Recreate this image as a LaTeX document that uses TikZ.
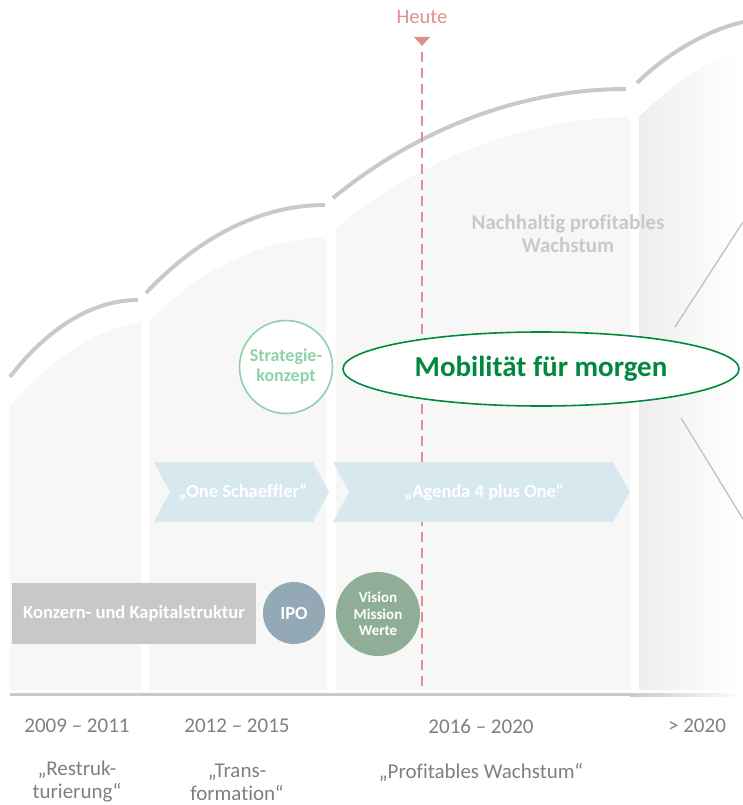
\documentclass[tikz,border=0pt]{standalone}
\usepackage{fontspec}
\setmainfont{Carlito}[Ligatures={TeX,NoCommon}]
\usetikzlibrary{shapes.geometric}
\definecolor{colfill}{HTML}{F7F7F7}
\definecolor{colfillb}{HTML}{EEEEEE}
\definecolor{arcgray}{HTML}{C9C9C9}
\definecolor{heutecol}{HTML}{E08E8E}
\definecolor{sgreen}{HTML}{00893D}
\definecolor{lgreen}{HTML}{8ED1AB}
\definecolor{chevcol}{HTML}{D7E8EF}
\definecolor{boxgray}{HTML}{C8C8C8}
\definecolor{ipocol}{HTML}{93A9B5}
\definecolor{viscol}{HTML}{8FAE97}
\definecolor{txtgray}{HTML}{7F7F7F}
\definecolor{thingray}{HTML}{C0C0C0}
\begin{document}
\begin{tikzpicture}[x=1pt,y=-1pt,
  topline/.style={draw=arcgray,line width=4pt},
  whitebold/.style={font=\fontsize{18.5}{21}\selectfont\bfseries,text=white,align=center,inner sep=0pt},
  yearlbl/.style={font=\fontsize{21}{23}\selectfont,text=txtgray,align=center,inner sep=0pt},
  chevshape/.style={fill=chevcol},
  thinline/.style={draw=thingray,line width=1.3pt}]
\useasboundingbox (0,0) rectangle (743,805);
% column backgrounds
\fill[colfill] (10,690) -- (10,407) .. controls (45,365) and (90,330) .. (141,322) -- (141,690) -- cycle;
\fill[colfill] (149,690) -- (149,322) .. controls (193,275) and (255,240) .. (326,237) -- (326,690) -- cycle;
\fill[colfill] (336,690) -- (336,228) .. controls (410,167) and (512,119) .. (630,117) -- (630,690) -- cycle;
\shade[left color=colfillb,right color=white] (639,690) -- (639,117) .. controls (665,92) and (700,62) .. (743,50) -- (743,690) -- cycle;
% top arcs
\draw[topline] (10,377) .. controls (42,335) and (87,300) .. (138,300);
\draw[topline] (146,293) .. controls (191,245) and (253,205) .. (325,205);
\draw[topline] (333,198) .. controls (406,138) and (509,89) .. (626,89);
\draw[topline] (637,83) .. controls (660,60) and (700,32) .. (743,22);
% baseline
\fill[arcgray] (10,693) rectangle (630,696);
\shade[left color=arcgray,right color=white] (630,693) rectangle (743,696);
% Heute marker
\node[font=\fontsize{20.5}{24}\selectfont,text=heutecol,inner sep=0pt] (heute) at (422,17) {Heute};
\coordinate (tri) at (422,46);
\coordinate (lineend) at (422,690);
\fill[heutecol] (414,37) -- (430,37) -- (tri) -- cycle;
\draw[heutecol,line width=2.5pt,dash pattern=on 10pt off 6pt] (422,52) -- (lineend);
% thin lines on the right
\coordinate (a1) at (675,327);
\coordinate (a2) at (743,222);
\coordinate (b1) at (681,418);
\coordinate (b2) at (743,519);
\draw[thinline] (a1) -- (a2);
\draw[thinline] (b1) -- (b2);
% Nachhaltig text
\node[font=\fontsize{21}{23}\selectfont\bfseries,text=arcgray,align=center,inner sep=0pt] (nach) at (568,234) {Nachhaltig profitables\\Wachstum};
% ellipse
\node[ellipse,draw=sgreen,line width=1.6pt,fill=white,minimum width=396pt,minimum height=74pt,
  font=\fontsize{29}{32}\selectfont\bfseries,text=sgreen] (mob) at (541,369) {Mobilität für morgen};
% Strategie circle
\node[circle,draw=lgreen,line width=1.6pt,fill=white,minimum size=93pt,inner sep=0pt,
  font=\fontsize{18}{20}\selectfont\bfseries,text=lgreen,align=center] (strat) at (286,367) {Strategie-\\konzept};
% chevrons
\fill[chevshape] (154,462) -- (313,462) -- (329,492) -- (313,522) -- (154,522) -- (170,492) -- cycle;
\node[whitebold] (one) at (243,492) {„One Schaeffler“};
\fill[chevshape] (333,462) -- (613,462) -- (630,492) -- (613,522) -- (333,522) -- (349,492) -- cycle;
\node[whitebold] (agenda) at (484,492) {„Agenda 4 plus One“};
% bottom row
\node[fill=boxgray,minimum width=244pt,minimum height=61pt,whitebold] (konz) at (134,613) {Konzern- und Kapitalstruktur};
\node[circle,fill=ipocol,minimum size=62pt,whitebold] (ipo) at (294,613) {IPO};
\node[circle,fill=viscol,minimum size=84pt,whitebold,font=\fontsize{15}{16.5}\selectfont\bfseries] (vis) at (378,614) {Vision\\Mission\\Werte};
% labels
\node[yearlbl] (y1) at (77,726) {2009 – 2011};
\node[yearlbl] (y2) at (237,726) {2012 – 2015};
\node[yearlbl] (y3) at (481,726) {2016 – 2020};
\node[yearlbl] (y4) at (697,726) {> 2020};
\node[yearlbl] (p1) at (77,782) {„Restruk-\\turierung“};
\node[yearlbl] (p2) at (237,782) {„Trans-\\formation“};
\node[yearlbl] (p3) at (481,772) {„Profitables Wachstum“};
\end{tikzpicture}
\end{document}
